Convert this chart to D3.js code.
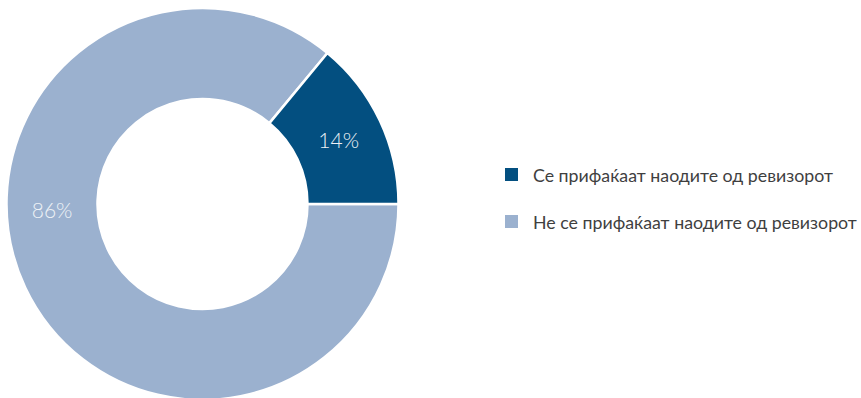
<!DOCTYPE html>
<html>
<head>
<meta charset="utf-8">
<script src="https://cdn.jsdelivr.net/npm/d3@7"></script>
<style>
  html, body { margin: 0; padding: 0; background: #ffffff; }
  svg { display: block; }
</style>
</head>
<body>
<svg id="chart" width="861" height="398"></svg>
<script>
// Audit findings acceptance shares
const categories = ["Се прифаќаат наодите од ревизорот", "Не се прифаќаат наодите од ревизорот"];
const values = [14, 86];
const colors = ["#034f80", "#9bb1cf"];
const valueLabels = ["14%", "86%"];

const svg = d3.select("#chart");
const cx = 202.5, cy = 204;
const outerR = 196, innerR = 105;

const g = svg.append("g").attr("transform", `translate(${cx},${cy})`);

const data = categories.map((c, i) => ({ name: c, value: values[i], color: colors[i], label: valueLabels[i] }));

// Draw the larger share first, starting at 3 o'clock and going clockwise
const pie = d3.pie()
  .value(d => d.value)
  .sort(null)
  .startAngle(Math.PI / 2)
  .endAngle(Math.PI / 2 + 2 * Math.PI);

const arcs = pie(data.slice().reverse());

const arc = d3.arc().innerRadius(innerR).outerRadius(outerR);

g.selectAll("path.slice")
  .data(arcs)
  .join("path")
  .attr("class", "slice")
  .attr("d", arc)
  .attr("fill", d => d.data.color)
  .attr("stroke", "#ffffff")
  .attr("stroke-width", 2.5);

// Value labels
const labelR = (innerR + outerR) / 2;
const labelPos = d => {
  if (d.data.value > 50) {
    // large share labelled on the left side of the ring
    const a = -Math.PI / 2 - 0.035;
    return [labelR * Math.sin(a), -labelR * Math.cos(a)];
  }
  return arc.centroid(d);
};

g.selectAll("text.val")
  .data(arcs)
  .join("text")
  .attr("class", "val")
  .attr("x", d => labelPos(d)[0])
  .attr("y", d => labelPos(d)[1])
  .attr("text-anchor", "middle")
  .attr("dominant-baseline", "central")
  .attr("font-family", "Lato, 'Open Sans', sans-serif")
  .attr("font-weight", 300)
  .attr("font-size", 21)
  .attr("fill", "#eef1f6")
  .text(d => d.data.label);

// Legend
const legend = svg.append("g").attr("transform", "translate(505,168)");
const items = legend.selectAll("g.item")
  .data(data)
  .join("g")
  .attr("class", "item")
  .attr("transform", (d, i) => `translate(0,${i * 47})`);

items.append("rect")
  .attr("width", 13)
  .attr("height", 13)
  .attr("fill", d => d.color);

items.append("text")
  .attr("x", 28)
  .attr("y", 6.5)
  .attr("dominant-baseline", "central")
  .attr("font-family", "Lato, 'Open Sans', sans-serif")
  .attr("font-size", 15.5)
  .attr("fill", "#3f3f3f")
  .text(d => d.name);

// fit the longer legend entry to the available width
const t = items.select("text").nodes()[1];
const w = t.getComputedTextLength();
const target = 324;
const fs = 15.5 * target / w;
items.select("text").attr("font-size", fs);
</script>
</body>
</html>
